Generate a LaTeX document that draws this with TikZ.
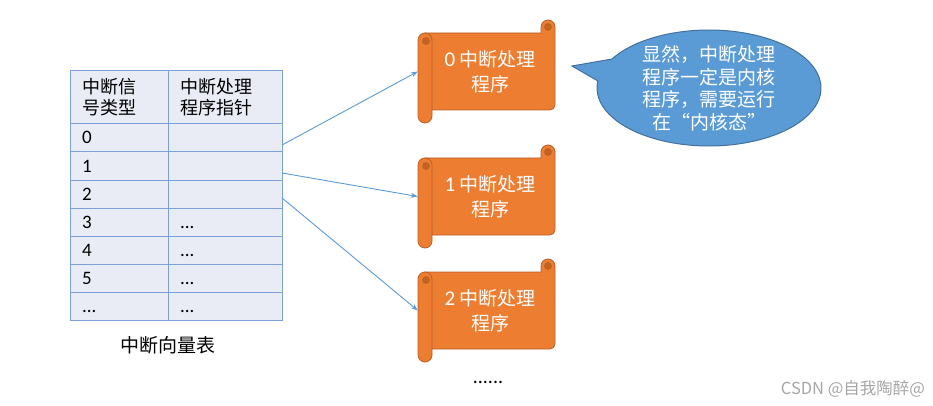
\documentclass[tikz,border=0pt]{standalone}
\usepackage{fontspec}
\setmainfont{Noto Sans CJK SC}
\newfontfamily\latin{Carlito}
\usetikzlibrary{positioning,arrows.meta}
\definecolor{cellfill}{HTML}{E9EBF5}
\definecolor{cellline}{HTML}{7DA2DA}
\definecolor{scrollfill}{HTML}{ED7D31}
\definecolor{scrollline}{HTML}{B8602A}
\definecolor{scrollcurl}{HTML}{C4621F}
\definecolor{notefill}{HTML}{5B9BD5}
\definecolor{noteline}{HTML}{41719C}
\definecolor{arrowblue}{HTML}{5B9BD5}
\tikzset{
  cell/.style={
    draw=cellline,
    fill=cellfill,
    line width=1pt,
    outer sep=0pt,
    inner xsep=12pt,
    inner ysep=0pt,
    minimum height=28pt,
    align=left,
    font=\fontsize{18}{21}\selectfont,
  },
  left cell/.style={cell, text width=74pt},
  right cell/.style={cell, text width=90pt},
  num cell/.style={left cell, text height=12pt, text depth=0pt, font=\latin\fontsize{19}{21}\selectfont},
  dots cell/.style={right cell, text height=12pt, text depth=0pt, font=\latin\fontsize{19}{21}\selectfont},
  scroll/.style={fill=scrollfill, draw=scrollline, line width=0.8pt},
  curl/.style={fill=scrollcurl, draw=scrollline, line width=0.6pt},
  scroll text/.style={
    text=white,
    align=center,
    inner sep=0pt,
    minimum width=144pt,
    font=\fontsize{19}{25}\selectfont,
  },
  pointer/.style={
    draw=arrowblue,
    line width=0.9pt,
    -{Stealth[length=7pt,width=5pt]},
  },
}

\begin{document}
\begin{tikzpicture}[x=1pt, y=-1pt, node distance=0pt]
        \useasboundingbox (0,0) rectangle (933,406);

        % vector table
        \node [left cell, minimum height=53pt, anchor=north west] (h1) at (70,71) {中断信\\号类型};
        \node [right cell, minimum height=53pt, right=of h1] (h2) {中断处理\\程序指针};
        \node [num cell, below=of h1] (r0a) {0};
        \node [dots cell, right=of r0a] (r0b) {};
        \node [num cell, below=of r0a] (r1a) {1};
        \node [dots cell, right=of r1a] (r1b) {};
        \node [num cell, below=of r1a] (r2a) {2};
        \node [dots cell, right=of r2a] (r2b) {};
        \node [num cell, below=of r2a] (r3a) {3};
        \node [dots cell, right=of r3a] (r3b) {...};
        \node [num cell, below=of r3a] (r4a) {4};
        \node [dots cell, right=of r4a] (r4b) {...};
        \node [num cell, below=of r4a] (r5a) {5};
        \node [dots cell, right=of r5a] (r5b) {...};
        \node [num cell, below=of r5a] (r6a) {...};
        \node [dots cell, right=of r6a] (r6b) {...};

        \node [font=\fontsize{19}{21}\selectfont] (vtable) at (168,345) {中断向量表};

        % handler scrolls
        \foreach \n/\top in {0/33,1/158,2/272} {
          \begin{scope}[shift={(418,\top)}]
            \filldraw [scroll] (7,0) -- (123,0) -- (123,-6)
              arc[start angle=180, end angle=360, radius=7] -- (137,72)
              arc[start angle=0, end angle=90, radius=5] -- (14,77) -- cycle;
            \filldraw [curl] (130,-6) circle[radius=3.5];
            \filldraw [scroll] (0,7) -- (0,83)
              arc[start angle=180, end angle=0, radius=7] -- (14,7)
              arc[start angle=0, end angle=-180, radius=7] -- cycle;
            \filldraw [curl] (8,8) circle[radius=3.5];
            \node [scroll text] (s\n) at (72,38.5) {{\latin\fontsize{21}{25}\selectfont\n}\ 中断处理\\程序};
          \end{scope}
        }

        \draw [pointer] ([yshift=-7pt]r0b.east) -- (s0.west);
        \draw [pointer] ([yshift=-7pt]r1b.east) -- (s1.west);
        \draw [pointer] ([yshift=-4pt]r2b.east) -- (s2.west);

        \node [font=\latin\fontsize{20}{22}\selectfont] (more) at (488,382) {......};

        % speech bubble
        \filldraw [fill=notefill, draw=noteline, line width=1pt]
          (572,66) -- ([shift={(709,88)}]210:112 and 58)
          arc[start angle=210, end angle=547, x radius=112, y radius=58] -- cycle;
        \node [text=white, align=center, font=\fontsize{19}{22.5}\selectfont] (note) at (709,88)
          {显然，中断处理\\程序一定是内核\\程序，需要运行\\在“内核态”};

        \node [text=gray!70, font=\fontsize{16.5}{18}\selectfont] (mark) at (853,389) {CSDN @自我陶醉@};
    \end{tikzpicture}
\end{document}
